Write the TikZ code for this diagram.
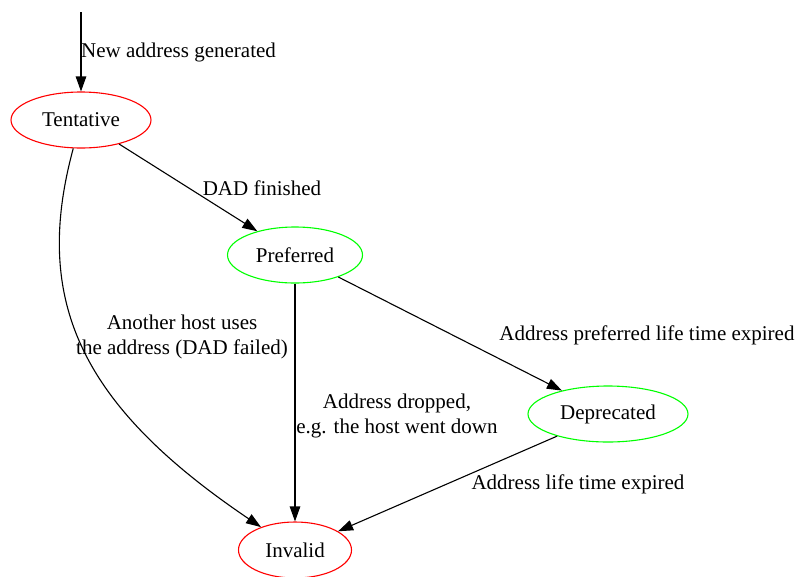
\documentclass[tikz,border=0pt]{standalone}
\usepackage{fontspec}
\setmainfont{Liberation Serif}
\usetikzlibrary{shapes.geometric,arrows.meta}
\begin{document}
\begin{tikzpicture}[x=1pt,y=-1pt,
  state/.style={ellipse,draw,line width=1.1pt,inner sep=0pt,minimum height=56pt,font=\fontsize{21}{24}\selectfont},
  bad/.style={state,draw=red},
  good/.style={state,draw=green},
  edge/.style={draw=black,line width=1.1pt,-{Triangle[length=15pt,width=10.5pt]}},
  lbl/.style={font=\fontsize{21}{25}\selectfont,align=center,inner sep=0pt}]
\useasboundingbox (0,0) rectangle (799,576);
% states of an IPv6 address
\node[bad, minimum width=140pt] (T) at (81,120) {Tentative};
\node[good,minimum width=135pt] (P) at (295,255) {Preferred};
\node[good,minimum width=160pt] (D) at (608,414) {Deprecated};
\node[bad, minimum width=113pt] (I) at (295,550) {Invalid};
\coordinate (start) at (81,12);
% transitions
\draw[edge] (start) -- (T);
\node[lbl,anchor=west] (l0) at (81,52) {New address generated};
\draw[edge] (T) -- (P);
\node[lbl] (l1) at (262,188) {DAD finished};
\draw[edge] (T) .. controls (32,300) and (80,405) .. (I);
\node[lbl] (l2) at (182,337) {Another host uses\\the address (DAD failed)};
\draw[edge] (P) -- (I);
\node[lbl] (l3) at (397,416) {Address dropped,\\e.g. the host went down};
\draw[edge] (P) -- (D);
\node[lbl] (l4) at (647,335) {Address preferred life time expired};
\draw[edge] (D) -- (I);
\node[lbl] (l5) at (578,484) {Address life time expired};
\end{tikzpicture}
\end{document}
